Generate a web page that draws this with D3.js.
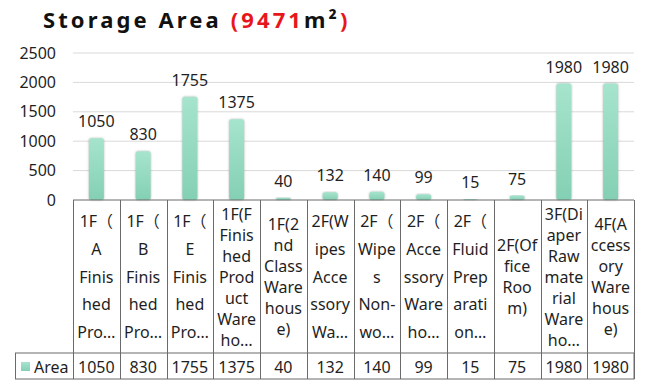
<!DOCTYPE html>
<html>
<head>
<meta charset="utf-8">
<script src="https://cdn.jsdelivr.net/npm/d3@7"></script>
<style>
  body { margin: 0; background: #fff; }
  svg { display: block; font-family: "Noto Sans", "Noto Sans CJK SC", sans-serif; }
</style>
</head>
<body>
<div id="chart"></div>
<script>
// chart data
const categories = [
  "1F（A Finished Product Warehouse）", "1F（B Finished Product Warehouse）", "1F（E Finished Product Warehouse）",
  "1F(F Finished Product Warehouse)", "1F(2nd Class Warehouse)", "2F(Wipes Accessory Warehouse)",
  "2F（Wipes Non-woven Warehouse）", "2F（Accessory Warehouse）", "2F（Fluid Preparation Room）",
  "2F(Office Room)", "3F(Diaper Raw material Warehouse)", "4F(Accessory Warehouse)"
];
// wrapped / clipped category text as shown in the table
const categoryLines = [
  ["1F（", "A", "Finis", "hed", "Pro…"],
  ["1F（", "B", "Finis", "hed", "Pro…"],
  ["1F（", "E", "Finis", "hed", "Pro…"],
  ["1F(F", "Finis", "hed", "Prod", "uct", "Ware", "ho…"],
  ["1F(2", "nd", "Class", "Ware", "hous", "e)"],
  ["2F(W", "ipes", "Acce", "ssory", "Wa…"],
  ["2F（", "Wipe", "s", "Non-", "wo…"],
  ["2F（", "Acce", "ssory", "Ware", "ho…"],
  ["2F（", "Fluid", "Prep", "arati", "on…"],
  ["2F(Of", "fice", "Roo", "m)"],
  ["3F(Di", "aper", "Raw", "mate", "rial", "Ware", "ho…"],
  ["4F(A", "ccess", "ory", "Ware", "hous", "e)"]
];
const areaValues = [1050, 830, 1755, 1375, 40, 132, 140, 99, 15, 75, 1980, 1980];
const seriesName = "Area";
const yTicks = [0, 500, 1000, 1500, 2000, 2500];
const totalArea = 9471;

const width = 660, height = 386;
const plotLeft = 73, plotRight = 634, plotTop = 53, plotBottom = 200;
const tableLeft = 15, catBottom = 353, rowBottom = 379;
const lineColor = "#6b6b6b", textColor = "#1f1f1f";
const fs = 16;

const svg = d3.select("#chart").append("svg")
  .attr("width", width)
  .attr("height", height);

const defs = svg.append("defs");
const grad = defs.append("linearGradient")
  .attr("id", "barGrad").attr("x1", 0).attr("y1", 0).attr("x2", 0).attr("y2", 1);
grad.append("stop").attr("offset", "0%").attr("stop-color", "#a6e4cd");
grad.append("stop").attr("offset", "100%").attr("stop-color", "#84d0b4");

const shadow = defs.append("filter").attr("id", "barShadow")
  .attr("x", "-50%").attr("y", "-10%").attr("width", "200%").attr("height", "120%");
shadow.append("feDropShadow")
  .attr("dx", 0).attr("dy", 0).attr("stdDeviation", 1.2)
  .attr("flood-color", "#777").attr("flood-opacity", 0.55);

// title
const title = svg.append("text")
  .attr("x", 43).attr("y", 28)
  .attr("font-size", 22).attr("font-weight", "bold")
  .attr("letter-spacing", 3.1)
  .attr("fill", "#111");
title.append("tspan").text("Storage Area ");
title.append("tspan").attr("fill", "#e8161b").text("(" + totalArea);
title.append("tspan").text("m²");
title.append("tspan").attr("fill", "#e8161b").text(")");

// scales
const x = d3.scaleBand()
  .domain(categories)
  .range([plotLeft, plotRight])
  .padding(0);

const y = d3.scaleLinear()
  .domain([0, 2500])
  .range([plotBottom, plotTop]);

// gridlines
svg.append("g")
  .selectAll("line")
  .data(yTicks.filter(d => d > 0))
  .enter().append("line")
    .attr("x1", plotLeft).attr("x2", plotRight)
    .attr("y1", d => y(d)).attr("y2", d => y(d))
    .attr("stroke", "#d9d9d9").attr("stroke-width", 1);

// y axis labels
const yAxis = svg.append("g")
  .attr("transform", "translate(" + plotLeft + ",0)")
  .call(d3.axisLeft(y).tickValues(yTicks).tickSize(0).tickPadding(17).tickFormat(d3.format("d")));
yAxis.select(".domain").remove();
yAxis.selectAll("text")
  .attr("font-size", fs)
  .attr("font-family", "Noto Sans, sans-serif")
  .attr("fill", textColor);

// bars
const barW = 15;
svg.append("g")
  .selectAll("rect")
  .data(areaValues)
  .enter().append("rect")
    .attr("x", (d, i) => x(categories[i]) + x.bandwidth() / 2 - barW / 2)
    .attr("y", d => y(d))
    .attr("width", barW)
    .attr("height", d => plotBottom - y(d))
    .attr("rx", 2.5)
    .attr("fill", "url(#barGrad)")
    .style("filter", "url(#barShadow)");

// value labels
svg.append("g")
  .selectAll("text")
  .data(areaValues)
  .enter().append("text")
    .attr("x", (d, i) => x(categories[i]) + x.bandwidth() / 2)
    .attr("y", d => y(d) - 11)
    .attr("text-anchor", "middle")
    .attr("font-size", fs)
    .attr("fill", textColor)
    .text(d => d);

// data table
const table = svg.append("g").attr("stroke", lineColor).attr("stroke-width", 1).attr("fill", "none");
table.append("line").attr("x1", plotLeft).attr("x2", plotRight).attr("y1", plotBottom).attr("y2", plotBottom);
table.append("rect")
  .attr("x", tableLeft + 0.5).attr("y", catBottom)
  .attr("width", plotRight - tableLeft - 0.5).attr("height", rowBottom - catBottom);
const borders = categories.map(c => x(c)).concat([plotRight]);
table.selectAll(".vline")
  .data(borders)
  .enter().append("line")
    .attr("class", "vline")
    .attr("x1", d => Math.round(d) + 0.5).attr("x2", d => Math.round(d) + 0.5)
    .attr("y1", plotBottom).attr("y2", rowBottom);

// category labels in table
const catMid = (plotBottom + catBottom) / 2;
const catG = svg.append("g")
  .attr("font-size", fs)
  .attr("fill", textColor)
  .attr("text-anchor", "middle");
categoryLines.forEach((lines, i) => {
  const lh = lines.length === 5 ? 27.7 : 21;
  const cx = x(categories[i]) + x.bandwidth() / 2;
  const t = catG.append("text")
    .attr("dominant-baseline", "central");
  lines.forEach((s, j) => {
    t.append("tspan")
      .attr("x", cx)
      .attr("y", catMid - (lines.length - 1) * lh / 2 + j * lh)
      .text(s);
  });
});

// value row
const rowMid = (catBottom + rowBottom) / 2 + 0.5;
svg.append("g")
  .selectAll("text")
  .data(areaValues)
  .enter().append("text")
    .attr("x", (d, i) => x(categories[i]) + x.bandwidth() / 2)
    .attr("y", rowMid)
    .attr("dominant-baseline", "central")
    .attr("text-anchor", "middle")
    .attr("font-size", fs)
    .attr("fill", textColor)
    .text(d => d);

// legend key
svg.append("rect")
  .attr("x", 21).attr("y", rowMid - 4.5)
  .attr("width", 9).attr("height", 9)
  .attr("fill", "url(#barGrad)");
svg.append("text")
  .attr("x", 34).attr("y", rowMid)
  .attr("dominant-baseline", "central")
  .attr("font-size", fs)
  .attr("fill", textColor)
  .text(seriesName);
</script>
</body>
</html>
